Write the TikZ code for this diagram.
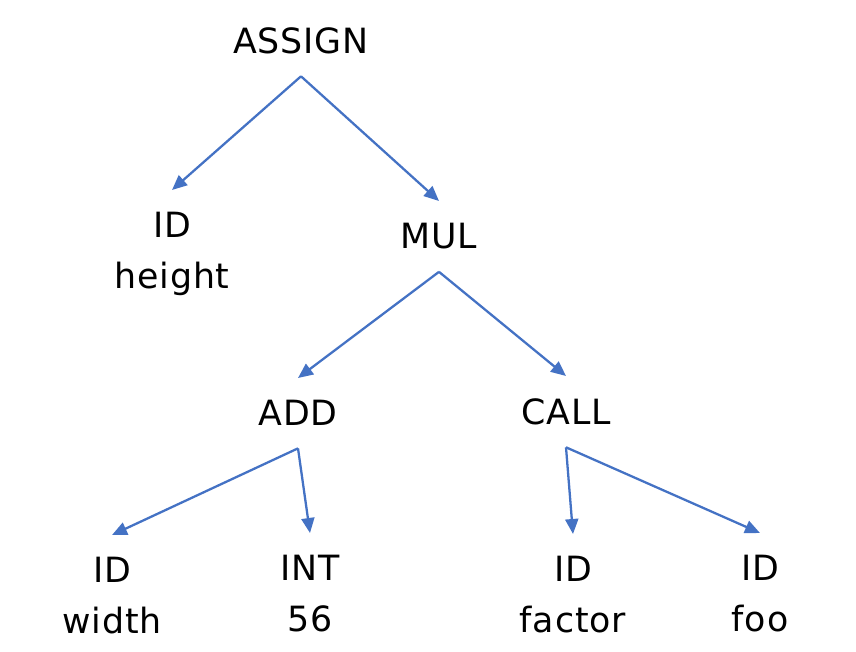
\documentclass[tikz,border=0pt]{standalone}
\usepackage{fontspec}
\setmainfont[LetterSpace=2.5]{DejaVu Sans}
\usetikzlibrary{arrows.meta}
\definecolor{edgeblue}{HTML}{4472C4}
\begin{document}
\begin{tikzpicture}[x=0.02cm, y=-0.02cm,
        tok/.style={anchor=north, align=center, inner sep=0pt, outer ysep=0.45cm, font=\fontsize{19.8}{29}\selectfont},
        arc/.style={draw=edgeblue, line width=1.3pt, -{Triangle[length=0.3cm, width=0.26cm]}}]
        \useasboundingbox (0, 0) rectangle (856, 652);

        \node[tok] (assign) at (301, 5) {ASSIGN};
        \node[tok] (idh) at (172, 190) {ID\\height};
        \node[tok] (mul) at (439, 201) {MUL};
        \node[tok] (add) at (298, 378) {ADD};
        \node[tok] (call) at (566, 376) {CALL};
        \node[tok] (idw) at (112, 535) {ID\\width};
        \node[tok] (int) at (310, 533) {INT\\56};
        \node[tok] (idf) at (573, 534) {ID\\factor};
        \node[tok] (idfoo) at (760, 533) {ID\\foo};

        \draw[arc] (assign.south) -- (idh.north);
        \draw[arc] (assign.south) -- (mul.north);

        \draw[arc] (mul.south) -- (add.north);
        \draw[arc] (mul.south) -- (call.north);

        \draw[arc] (add.south) -- (idw.north);
        \draw[arc] (add.south) -- (int.north);

        \draw[arc] (call.south) -- (idf.north);
        \draw[arc] (call.south) -- (idfoo.north);
    \end{tikzpicture}
\end{document}
